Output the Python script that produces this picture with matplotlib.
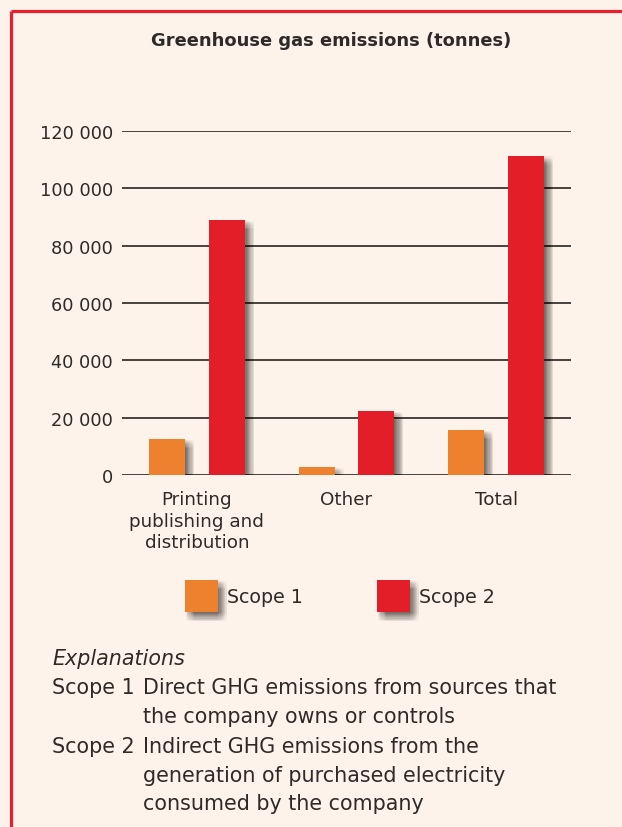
import matplotlib
matplotlib.use("Agg")
import matplotlib.pyplot as plt
import matplotlib.patheffects as pe
from matplotlib.lines import Line2D
import numpy as np

# ---- data ----
categories = ["Printing\npublishing and\ndistribution", "Other", "Total"]
scope1 = [12600, 2800, 15700]
scope2 = [89000, 22300, 111400]
series_names = ["Scope 1", "Scope 2"]
yticks = [0, 20000, 40000, 60000, 80000, 100000, 120000]
ytick_labels = ["0", "20 000", "40 000", "60 000", "80 000", "100 000", "120 000"]
title = "Greenhouse gas emissions (tonnes)"
expl_head = "Explanations"
expl_rows = [
    ("Scope 1", ["Direct GHG emissions from sources that",
                 "the company owns or controls"]),
    ("Scope 2", ["Indirect GHG emissions from the",
                 "generation of purchased electricity",
                 "consumed by the company"]),
]

# ---- style ----
W, H = 622, 828
DPI = 100
BG = "#FDF3EA"
ORANGE = "#EE812D"
RED = "#E31E29"
TXT = "#2f2a28"
FRAME = "#E8202E"

plt.rcParams['font.family'] = ['DejaVu Sans']

fig = plt.figure(figsize=(W / DPI, H / DPI), dpi=DPI, facecolor=BG)

def fx(px):
    return px / W

def fy(py):
    return 1 - py / H

ax_left, ax_right, ax_top, ax_bot = 122, 571, 132, 476
ax = fig.add_axes([fx(ax_left), fy(ax_bot), fx(ax_right - ax_left), (ax_bot - ax_top) / H])
ax.set_facecolor(BG)

shadow = []
for dx in np.linspace(0.5, 6.5, 8):
    for dy in np.linspace(0.5, 6.5, 8):
        shadow.append(pe.SimplePatchShadow(offset=(dx, -dy), shadow_rgbFace="#2a2020", alpha=0.013))
shadow.append(pe.Normal())

x = np.arange(len(categories))
off = 0.2
wid = 0.24
b1 = ax.bar(x - off, scope1, width=wid, color=ORANGE, label=series_names[0], zorder=3)
b2 = ax.bar(x + off, scope2, width=wid, color=RED, label=series_names[1], zorder=3)
for b in list(b1) + list(b2):
    b.set_path_effects(shadow)

ax.set_xlim(-0.5, 2.5)
ax.set_ylim(0, 120000)
ax.set_yticks(yticks)
ax.set_yticklabels(ytick_labels)
ax.set_xticks(x)
ax.set_xticklabels(categories, linespacing=1.25)
ax.yaxis.grid(True, color="#3a3432", linewidth=1.3, zorder=0)
ax.set_axisbelow(True)
for s in ax.spines.values():
    s.set_visible(False)
ax.tick_params(axis='y', length=0, pad=6.5, labelsize=12.8, labelcolor=TXT)
ax.tick_params(axis='x', length=0, pad=11, labelsize=13.2, labelcolor=TXT)
for t in ax.get_xticklabels():
    t.set_verticalalignment('top')

# title
fig.text(fx(331), fy(41), title, ha='center', va='center', fontsize=12.9,
         fontweight='bold', color=TXT)

# legend
leg = fig.legend(handles=[b1, b2], labels=series_names, loc='center',
                 bbox_to_anchor=(fx(340), fy(597)), ncol=2, frameon=False,
                 fontsize=13.7, handlelength=1.7, handleheight=2.2,
                 handletextpad=0.5, columnspacing=3.9, borderpad=0, labelcolor=TXT)

# explanations
FS = 14.9
fig.text(fx(52), fy(659), expl_head, ha='left', va='center', fontsize=FS,
         style='italic', color=TXT)
ys = [688, 717, 747, 776, 804]
i = 0
for lab, lines in expl_rows:
    fig.text(fx(52), fy(ys[i]), lab, ha='left', va='center', fontsize=FS, color=TXT)
    for ln in lines:
        fig.text(fx(143), fy(ys[i]), ln, ha='left', va='center', fontsize=FS, color=TXT)
        i += 1

# frame (top and left edges)
fig.add_artist(Line2D([fx(10.5), fx(640)], [fy(12), fy(12)], color=FRAME, linewidth=2.3,
                      transform=fig.transFigure, solid_capstyle='butt'))
fig.add_artist(Line2D([fx(10.5), fx(10.5)], [fy(12), fy(840)], color=FRAME, linewidth=2.3,
                      transform=fig.transFigure, solid_capstyle='butt'))

fig.savefig("out.png", dpi=DPI, facecolor=BG)
